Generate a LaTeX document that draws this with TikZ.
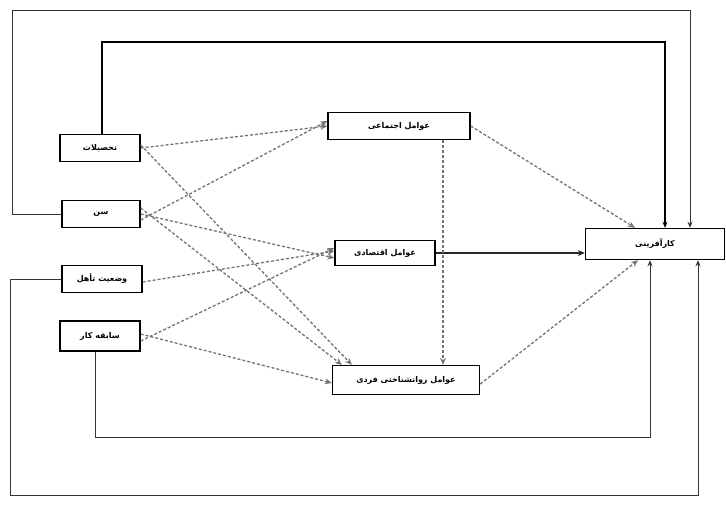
\documentclass[tikz,border=0pt]{standalone}
\usepackage{fontspec}
\newfontfamily\arabicfont[Script=Arabic]{DejaVu Sans}
\TeXXeTstate=1
\usetikzlibrary{arrows.meta}
\newcommand{\fa}[1]{\arabicfont\beginR #1\endR}
\begin{document}
\begin{tikzpicture}[x=1pt,y=-1pt,
  box/.style={draw, line width=1.4pt, fill=white, inner sep=1pt, font=\arabicfont\fontsize{8}{9}\selectfont\bfseries},
  link/.style={draw=black!55, line width=1.3pt, densely dashed, -{Stealth[length=7pt,width=6pt]}},
  loopline/.style={draw=black, line width=1.8pt, -{Stealth[length=6pt,width=5pt]}},
  thinloop/.style={draw=black!80, line width=1pt, -{Stealth[length=6pt,width=5pt]}},
  solidlink/.style={draw=black!85, line width=1.2pt, -{Stealth[length=7pt,width=6pt]}}]
\useasboundingbox (0,0) rectangle (726,525);
% left boxes
\node[box, minimum width=80pt, minimum height=27pt] (b1) at (100,148) {\fa{تحصیلات}};
\node[box, minimum width=78pt, minimum height=27pt] (b2) at (101,214) {\fa{سن}};
\node[box, minimum width=80pt, minimum height=27pt] (b3) at (102,279) {\fa{وضعیت تأهل}};
\node[box, minimum width=80pt, minimum height=30pt] (b4) at (100,336) {\fa{سابقه کار}};
% middle boxes
\node[box, minimum width=142pt, minimum height=27pt] (m1) at (399,126) {\fa{عوامل اجتماعی}};
\node[box, minimum width=100pt, minimum height=25pt] (m2) at (385,253) {\fa{عوامل اقتصادی}};
\node[box, minimum width=147pt, minimum height=29pt] (m3) at (406,380) {\fa{عوامل روانشناختی فردی}};
% right box
\node[box, minimum width=139pt, minimum height=31pt] (r) at (655,244) {\fa{کارآفرینی}};
% left to middle links
\draw[link] (b1.east) -- (m1.west);
\draw[link] ([yshift=3pt]b1.east) -- ([xshift=20pt]m3.north west);
\draw[link] ([yshift=-6pt]b2.east) -- ([yshift=5pt]m1.west);
\draw[link] (b2.east) -- ([yshift=-5pt]m2.west);
\draw[link] ([yshift=6pt]b2.east) -- ([xshift=10pt]m3.north west);
\draw[link] ([yshift=-3pt]b3.east) -- ([yshift=2pt]m2.west);
\draw[link] ([yshift=-5pt]b4.east) -- ([yshift=5pt]m2.west);
\draw[link] ([yshift=2pt]b4.east) -- ([yshift=-3pt]m3.west);
% middle to right
\draw[link] (m1.east) -- (r.north -| 635,0);
\draw[solidlink] (m2.east) -- (m2.east -| r.west);
\draw[link] ([yshift=-4pt]m3.east) -- (r.south -| 638,0);
\draw[link] (m1.south -| 443,0) -- (m3.north -| 443,0);
% feedback loops
\draw[loopline] (b1.north -| 102,0) |- (665,42) -- (r.north -| 665,0);
\draw[thinloop] (b2.west) -| (12,10) -| (r.north -| 690,0);
\draw[thinloop] (b3.west) -| (10,495) -| (r.south -| 698,0);
\draw[thinloop] (b4.south -| 95,0) |- (650,437) -- (r.south -| 650,0);
\end{tikzpicture}
\end{document}
